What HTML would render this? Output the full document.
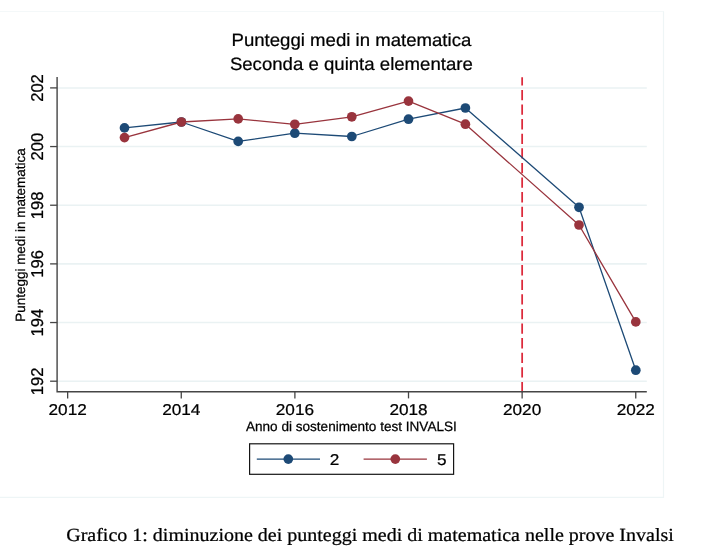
<!DOCTYPE html>
<html><head><meta charset="utf-8"><title>Grafico 1</title>
<style>
html,body{margin:0;padding:0;background:#fff;}
body{width:711px;height:557px;overflow:hidden;font-family:"Liberation Sans",sans-serif;}
svg{display:block;text-rendering:geometricPrecision;will-change:transform;}
.s{font-family:"Liberation Sans",sans-serif;fill:#000;stroke:#000;stroke-width:0.25px;}
.c{font-family:"Liberation Serif",serif;fill:#000;stroke:#000;stroke-width:0.25px;}
</style></head><body>
<svg width="711" height="557" viewBox="0 0 711 557">
<rect x="0" y="0" width="711" height="557" fill="#ffffff"/>
<line x1="0" y1="11.5" x2="664.1" y2="11.5" stroke="#f4f8f9" stroke-width="1.2"/>
<path d="M663.5 11.5 V497.4 H0" fill="none" stroke="#eef5f6" stroke-width="1.2"/>
<line x1="58" y1="381.20" x2="646.8" y2="381.20" stroke="#eaf2f3" stroke-width="1.55"/>
<line x1="58" y1="322.54" x2="646.8" y2="322.54" stroke="#eaf2f3" stroke-width="1.55"/>
<line x1="58" y1="263.88" x2="646.8" y2="263.88" stroke="#eaf2f3" stroke-width="1.55"/>
<line x1="58" y1="205.22" x2="646.8" y2="205.22" stroke="#eaf2f3" stroke-width="1.55"/>
<line x1="58" y1="146.56" x2="646.8" y2="146.56" stroke="#eaf2f3" stroke-width="1.55"/>
<line x1="58" y1="87.90" x2="646.8" y2="87.90" stroke="#eaf2f3" stroke-width="1.55"/>
<line x1="522.15" y1="392.2" x2="522.15" y2="77.2" stroke="#dc2a3b" stroke-width="1.75" stroke-dasharray="10.3 4.3"/>
<polyline fill="none" stroke="#1d4a76" stroke-width="1.3" stroke-linejoin="round" points="124.5,127.9 181.4,122.0 238.2,141.4 294.8,133.2 351.8,136.5 408.5,119.2 465.4,108.0 579.0,207.3 635.8,370.2"/>
<circle cx="124.5" cy="127.9" r="4.85" fill="#1d4a76"/>
<circle cx="181.4" cy="122.0" r="4.85" fill="#1d4a76"/>
<circle cx="238.2" cy="141.4" r="4.85" fill="#1d4a76"/>
<circle cx="294.8" cy="133.2" r="4.85" fill="#1d4a76"/>
<circle cx="351.8" cy="136.5" r="4.85" fill="#1d4a76"/>
<circle cx="408.5" cy="119.2" r="4.85" fill="#1d4a76"/>
<circle cx="465.4" cy="108.0" r="4.85" fill="#1d4a76"/>
<circle cx="579.0" cy="207.3" r="4.85" fill="#1d4a76"/>
<circle cx="635.8" cy="370.2" r="4.85" fill="#1d4a76"/>
<polyline fill="none" stroke="#99343d" stroke-width="1.3" stroke-linejoin="round" points="124.5,137.6 181.4,122.0 238.2,118.9 294.8,124.3 351.8,116.8 408.5,101.1 465.4,124.2 579.0,225.0 635.8,321.9"/>
<circle cx="124.5" cy="137.6" r="4.85" fill="#99343d"/>
<circle cx="181.4" cy="122.0" r="4.85" fill="#99343d"/>
<circle cx="238.2" cy="118.9" r="4.85" fill="#99343d"/>
<circle cx="294.8" cy="124.3" r="4.85" fill="#99343d"/>
<circle cx="351.8" cy="116.8" r="4.85" fill="#99343d"/>
<circle cx="408.5" cy="101.1" r="4.85" fill="#99343d"/>
<circle cx="465.4" cy="124.2" r="4.85" fill="#99343d"/>
<circle cx="579.0" cy="225.0" r="4.85" fill="#99343d"/>
<circle cx="635.8" cy="321.9" r="4.85" fill="#99343d"/>
<path d="M57.1 77.1 V391.7 H646.8" fill="none" stroke="#454545" stroke-width="1.4" stroke-linejoin="miter"/>
<line x1="50.1" y1="381.20" x2="57.2" y2="381.20" stroke="#454545" stroke-width="1.3"/>
<text class="s" font-size="16.6" text-anchor="middle" transform="translate(43.2 381.30) rotate(-90) scale(1 1.03)">192</text>
<line x1="50.1" y1="322.54" x2="57.2" y2="322.54" stroke="#454545" stroke-width="1.3"/>
<text class="s" font-size="16.6" text-anchor="middle" transform="translate(43.2 322.64) rotate(-90) scale(1 1.03)">194</text>
<line x1="50.1" y1="263.88" x2="57.2" y2="263.88" stroke="#454545" stroke-width="1.3"/>
<text class="s" font-size="16.6" text-anchor="middle" transform="translate(43.2 263.98) rotate(-90) scale(1 1.03)">196</text>
<line x1="50.1" y1="205.22" x2="57.2" y2="205.22" stroke="#454545" stroke-width="1.3"/>
<text class="s" font-size="16.6" text-anchor="middle" transform="translate(43.2 205.32) rotate(-90) scale(1 1.03)">198</text>
<line x1="50.1" y1="146.56" x2="57.2" y2="146.56" stroke="#454545" stroke-width="1.3"/>
<text class="s" font-size="16.6" text-anchor="middle" transform="translate(43.2 146.66) rotate(-90) scale(1 1.03)">200</text>
<line x1="50.1" y1="87.90" x2="57.2" y2="87.90" stroke="#454545" stroke-width="1.3"/>
<text class="s" font-size="16.6" text-anchor="middle" transform="translate(43.2 88.00) rotate(-90) scale(1 1.03)">202</text>
<line x1="67.65" y1="391.7" x2="67.65" y2="398.4" stroke="#454545" stroke-width="1.3"/>
<text class="s" font-size="17.2" text-anchor="middle" transform="translate(67.65 414.9) scale(1 0.91)">2012</text>
<line x1="181.27" y1="391.7" x2="181.27" y2="398.4" stroke="#454545" stroke-width="1.3"/>
<text class="s" font-size="17.2" text-anchor="middle" transform="translate(181.27 414.9) scale(1 0.91)">2014</text>
<line x1="294.89" y1="391.7" x2="294.89" y2="398.4" stroke="#454545" stroke-width="1.3"/>
<text class="s" font-size="17.2" text-anchor="middle" transform="translate(294.89 414.9) scale(1 0.91)">2016</text>
<line x1="408.51" y1="391.7" x2="408.51" y2="398.4" stroke="#454545" stroke-width="1.3"/>
<text class="s" font-size="17.2" text-anchor="middle" transform="translate(408.51 414.9) scale(1 0.91)">2018</text>
<line x1="522.13" y1="391.7" x2="522.13" y2="398.4" stroke="#454545" stroke-width="1.3"/>
<text class="s" font-size="17.2" text-anchor="middle" transform="translate(522.13 414.9) scale(1 0.91)">2020</text>
<line x1="635.75" y1="391.7" x2="635.75" y2="398.4" stroke="#454545" stroke-width="1.3"/>
<text class="s" font-size="17.2" text-anchor="middle" transform="translate(635.75 414.9) scale(1 0.91)">2022</text>
<text class="s" font-size="18.6" text-anchor="middle" transform="translate(351.4 45.5) scale(1 0.96)">Punteggi medi in matematica</text>
<text class="s" font-size="18.6" text-anchor="middle" transform="translate(351.35 69.7) scale(1 0.96)">Seconda e quinta elementare</text>
<text class="s" font-size="13.57" text-anchor="middle" x="351.4" y="431.1">Anno di sostenimento test INVALSI</text>
<text class="s" font-size="13.45" text-anchor="middle" transform="translate(24.9 235) rotate(-90)">Punteggi medi in matematica</text>
<rect x="249.6" y="443.8" width="204" height="30.5" fill="#fff" stroke="#151515" stroke-width="1.2"/>
<line x1="256.8" y1="459.1" x2="320" y2="459.1" stroke="#1d4a76" stroke-width="1.3"/><circle cx="288.3" cy="459.1" r="4.85" fill="#1d4a76"/>
<text class="s" font-size="17.2" transform="translate(329.7 465.2) scale(1 0.91)">2</text>
<line x1="363.6" y1="459.1" x2="426.9" y2="459.1" stroke="#99343d" stroke-width="1.3"/><circle cx="395.3" cy="459.1" r="4.85" fill="#99343d"/>
<text class="s" font-size="17.2" transform="translate(436.9 465.2) scale(1 0.91)">5</text>
<text class="c" font-size="20" transform="translate(66.2 541) scale(1 0.93)">Grafico 1: diminuzione dei punteggi medi di matematica nelle prove Invalsi</text>
</svg></body></html>
